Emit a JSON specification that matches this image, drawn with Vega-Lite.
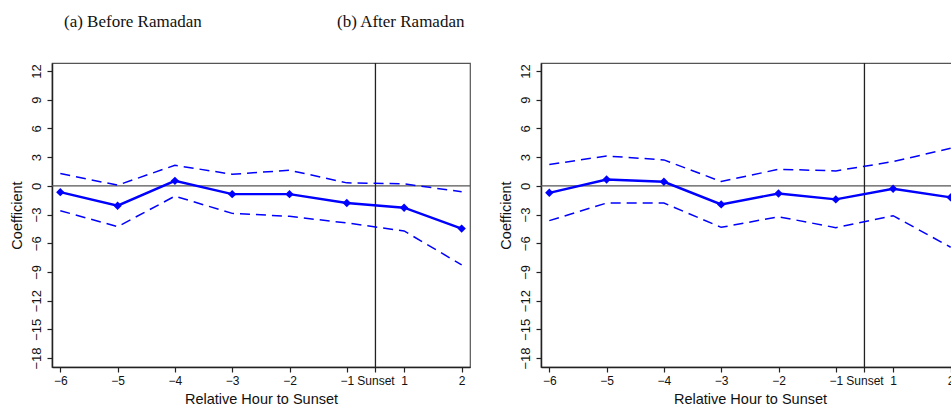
{
  "$schema": "https://vega.github.io/schema/vega-lite/v6.json",
  "background": "white",
  "padding": {"left": 8, "top": 12, "right": 0, "bottom": 0},
  "bounds": "flush",
  "spacing": 71,
  "config": {
    "font": "Liberation Sans",
    "view": {"stroke": "#555", "strokeWidth": 1.2},
    "axis": {"grid": false, "domainColor": "#222", "domainWidth": 1.5, "tickColor": "#222", "tickSize": 5, "tickWidth": 1.2,
      "labelFont": "Liberation Sans", "labelFontSize": 12, "labelColor": "#111", "labelFlush": false, "labelOverlap": false,
      "titleFont": "Liberation Sans", "titleFontSize": 14.5, "titleFontWeight": "normal", "titleColor": "#111"},
    "axisY": {"labelFontSize": 13},
    "title": {"font": "Liberation Serif", "fontSize": 17, "fontWeight": "normal", "anchor": "start", "color": "#111"}
  },
  "datasets": {
    "coef": [
      {"panel": "a", "hour": -6, "coef": -0.66, "lo": -2.60, "hi": 1.28},
      {"panel": "a", "hour": -5, "coef": -2.08, "lo": -4.27, "hi": 0.07},
      {"panel": "a", "hour": -4, "coef": 0.52, "lo": -1.08, "hi": 2.15},
      {"panel": "a", "hour": -3, "coef": -0.87, "lo": -2.88, "hi": 1.21},
      {"panel": "a", "hour": -2, "coef": -0.87, "lo": -3.19, "hi": 1.63},
      {"panel": "a", "hour": -1, "coef": -1.80, "lo": -3.88, "hi": 0.31},
      {"panel": "a", "hour": 1, "coef": -2.29, "lo": -4.72, "hi": 0.21},
      {"panel": "a", "hour": 2, "coef": -4.47, "lo": -8.26, "hi": -0.62},
      {"panel": "b", "hour": -6, "coef": -0.73, "lo": -3.64, "hi": 2.22},
      {"panel": "b", "hour": -5, "coef": 0.66, "lo": -1.80, "hi": 3.12},
      {"panel": "b", "hour": -4, "coef": 0.42, "lo": -1.80, "hi": 2.71},
      {"panel": "b", "hour": -3, "coef": -1.94, "lo": -4.34, "hi": 0.45},
      {"panel": "b", "hour": -2, "coef": -0.80, "lo": -3.23, "hi": 1.73},
      {"panel": "b", "hour": -1, "coef": -1.42, "lo": -4.37, "hi": 1.56},
      {"panel": "b", "hour": 1, "coef": -0.31, "lo": -3.12, "hi": 2.53},
      {"panel": "b", "hour": 2, "coef": -1.21, "lo": -6.42, "hi": 3.92}
    ],
    "refs": [{"zero": 0, "sunset": 0}]
  },
  "hconcat": [
    {
      "title": {"text": "(a) Before Ramadan", "dx": 55, "offset": 31},
      "width": 418, "height": 304,
      "layer": [
        {
          "data": {"name": "refs"},
          "mark": {"type": "rule", "color": "#555", "strokeWidth": 1.3},
          "encoding": {
            "y": {"field": "zero", "type": "quantitative", "scale": {"domain": [-18.94, 12.84], "nice": false, "zero": false},
              "axis": {"title": "Coefficient", "values": [-18, -15, -12, -9, -6, -3, 0, 3, 6, 9, 12], "labelAngle": -90, "labelAlign": "center", "labelBaseline": "bottom", "labelPadding": 4, "titlePadding": 6}}
          }
        },
        {
          "data": {"name": "refs"},
          "mark": {"type": "rule", "color": "#222", "strokeWidth": 1.3},
          "encoding": {
            "x": {"field": "sunset", "type": "quantitative", "scale": {"domain": [-6.145, -1, 1, 2.145], "range": [0, 294.8, 352.1, 418]},
              "axis": {"title": "Relative Hour to Sunset", "values": [-6, -5, -4, -3, -2, -1, 0, 1, 2], "labelExpr": "datum.value === 0 ? 'Sunset' : datum.label", "labelPadding": 3, "titlePadding": 6}}
          }
        },
        {
          "data": {"name": "coef"},
          "transform": [{"filter": "datum.panel === 'a'"}],
          "mark": {"type": "line", "color": "#0000ff", "strokeWidth": 1.5, "strokeDash": [10, 6]},
          "encoding": {
            "x": {"field": "hour", "type": "quantitative", "scale": {"domain": [-6.145, -1, 1, 2.145], "range": [0, 294.8, 352.1, 418]},
              "axis": {"title": "Relative Hour to Sunset", "values": [-6, -5, -4, -3, -2, -1, 0, 1, 2], "labelExpr": "datum.value === 0 ? 'Sunset' : datum.label", "labelPadding": 3, "titlePadding": 6}},
            "y": {"field": "hi", "type": "quantitative", "scale": {"domain": [-18.94, 12.84], "nice": false, "zero": false},
              "axis": {"title": "Coefficient", "values": [-18, -15, -12, -9, -6, -3, 0, 3, 6, 9, 12], "labelAngle": -90, "labelAlign": "center", "labelBaseline": "bottom", "labelPadding": 4, "titlePadding": 6}}
          }
        },
        {
          "data": {"name": "coef"},
          "transform": [{"filter": "datum.panel === 'a'"}],
          "mark": {"type": "line", "color": "#0000ff", "strokeWidth": 1.5, "strokeDash": [10, 6]},
          "encoding": {
            "x": {"field": "hour", "type": "quantitative", "scale": {"domain": [-6.145, -1, 1, 2.145], "range": [0, 294.8, 352.1, 418]},
              "axis": {"title": "Relative Hour to Sunset", "values": [-6, -5, -4, -3, -2, -1, 0, 1, 2], "labelExpr": "datum.value === 0 ? 'Sunset' : datum.label", "labelPadding": 3, "titlePadding": 6}},
            "y": {"field": "lo", "type": "quantitative", "scale": {"domain": [-18.94, 12.84], "nice": false, "zero": false},
              "axis": {"title": "Coefficient", "values": [-18, -15, -12, -9, -6, -3, 0, 3, 6, 9, 12], "labelAngle": -90, "labelAlign": "center", "labelBaseline": "bottom", "labelPadding": 4, "titlePadding": 6}}
          }
        },
        {
          "data": {"name": "coef"},
          "transform": [{"filter": "datum.panel === 'a'"}],
          "mark": {"type": "line", "color": "#0000ff", "strokeWidth": 2.4, "point": {"shape": "diamond", "filled": true, "size": 70, "color": "#0000ff"}},
          "encoding": {
            "x": {"field": "hour", "type": "quantitative", "scale": {"domain": [-6.145, -1, 1, 2.145], "range": [0, 294.8, 352.1, 418]},
              "axis": {"title": "Relative Hour to Sunset", "values": [-6, -5, -4, -3, -2, -1, 0, 1, 2], "labelExpr": "datum.value === 0 ? 'Sunset' : datum.label", "labelPadding": 3, "titlePadding": 6}},
            "y": {"field": "coef", "type": "quantitative", "scale": {"domain": [-18.94, 12.84], "nice": false, "zero": false},
              "axis": {"title": "Coefficient", "values": [-18, -15, -12, -9, -6, -3, 0, 3, 6, 9, 12], "labelAngle": -90, "labelAlign": "center", "labelBaseline": "bottom", "labelPadding": 4, "titlePadding": 6}}
          }
        }
      ]
    },
    {
      "title": {"text": "(b) After Ramadan", "dx": -161, "offset": 31},
      "width": 418, "height": 304,
      "layer": [
        {
          "data": {"name": "refs"},
          "mark": {"type": "rule", "color": "#555", "strokeWidth": 1.3},
          "encoding": {
            "y": {"field": "zero", "type": "quantitative", "scale": {"domain": [-18.94, 12.84], "nice": false, "zero": false},
              "axis": {"title": "Coefficient", "values": [-18, -15, -12, -9, -6, -3, 0, 3, 6, 9, 12], "labelAngle": -90, "labelAlign": "center", "labelBaseline": "bottom", "labelPadding": 4, "titlePadding": 6}}
          }
        },
        {
          "data": {"name": "refs"},
          "mark": {"type": "rule", "color": "#222", "strokeWidth": 1.3},
          "encoding": {
            "x": {"field": "sunset", "type": "quantitative", "scale": {"domain": [-6.145, -1, 1, 2.145], "range": [0, 294.8, 352.1, 418]},
              "axis": {"title": "Relative Hour to Sunset", "values": [-6, -5, -4, -3, -2, -1, 0, 1, 2], "labelExpr": "datum.value === 0 ? 'Sunset' : datum.label", "labelPadding": 3, "titlePadding": 6}}
          }
        },
        {
          "data": {"name": "coef"},
          "transform": [{"filter": "datum.panel === 'b'"}],
          "mark": {"type": "line", "color": "#0000ff", "strokeWidth": 1.5, "strokeDash": [10, 6]},
          "encoding": {
            "x": {"field": "hour", "type": "quantitative", "scale": {"domain": [-6.145, -1, 1, 2.145], "range": [0, 294.8, 352.1, 418]},
              "axis": {"title": "Relative Hour to Sunset", "values": [-6, -5, -4, -3, -2, -1, 0, 1, 2], "labelExpr": "datum.value === 0 ? 'Sunset' : datum.label", "labelPadding": 3, "titlePadding": 6}},
            "y": {"field": "hi", "type": "quantitative", "scale": {"domain": [-18.94, 12.84], "nice": false, "zero": false},
              "axis": {"title": "Coefficient", "values": [-18, -15, -12, -9, -6, -3, 0, 3, 6, 9, 12], "labelAngle": -90, "labelAlign": "center", "labelBaseline": "bottom", "labelPadding": 4, "titlePadding": 6}}
          }
        },
        {
          "data": {"name": "coef"},
          "transform": [{"filter": "datum.panel === 'b'"}],
          "mark": {"type": "line", "color": "#0000ff", "strokeWidth": 1.5, "strokeDash": [10, 6]},
          "encoding": {
            "x": {"field": "hour", "type": "quantitative", "scale": {"domain": [-6.145, -1, 1, 2.145], "range": [0, 294.8, 352.1, 418]},
              "axis": {"title": "Relative Hour to Sunset", "values": [-6, -5, -4, -3, -2, -1, 0, 1, 2], "labelExpr": "datum.value === 0 ? 'Sunset' : datum.label", "labelPadding": 3, "titlePadding": 6}},
            "y": {"field": "lo", "type": "quantitative", "scale": {"domain": [-18.94, 12.84], "nice": false, "zero": false},
              "axis": {"title": "Coefficient", "values": [-18, -15, -12, -9, -6, -3, 0, 3, 6, 9, 12], "labelAngle": -90, "labelAlign": "center", "labelBaseline": "bottom", "labelPadding": 4, "titlePadding": 6}}
          }
        },
        {
          "data": {"name": "coef"},
          "transform": [{"filter": "datum.panel === 'b'"}],
          "mark": {"type": "line", "color": "#0000ff", "strokeWidth": 2.4, "point": {"shape": "diamond", "filled": true, "size": 70, "color": "#0000ff"}},
          "encoding": {
            "x": {"field": "hour", "type": "quantitative", "scale": {"domain": [-6.145, -1, 1, 2.145], "range": [0, 294.8, 352.1, 418]},
              "axis": {"title": "Relative Hour to Sunset", "values": [-6, -5, -4, -3, -2, -1, 0, 1, 2], "labelExpr": "datum.value === 0 ? 'Sunset' : datum.label", "labelPadding": 3, "titlePadding": 6}},
            "y": {"field": "coef", "type": "quantitative", "scale": {"domain": [-18.94, 12.84], "nice": false, "zero": false},
              "axis": {"title": "Coefficient", "values": [-18, -15, -12, -9, -6, -3, 0, 3, 6, 9, 12], "labelAngle": -90, "labelAlign": "center", "labelBaseline": "bottom", "labelPadding": 4, "titlePadding": 6}}
          }
        }
      ]
    }
  ]
}
